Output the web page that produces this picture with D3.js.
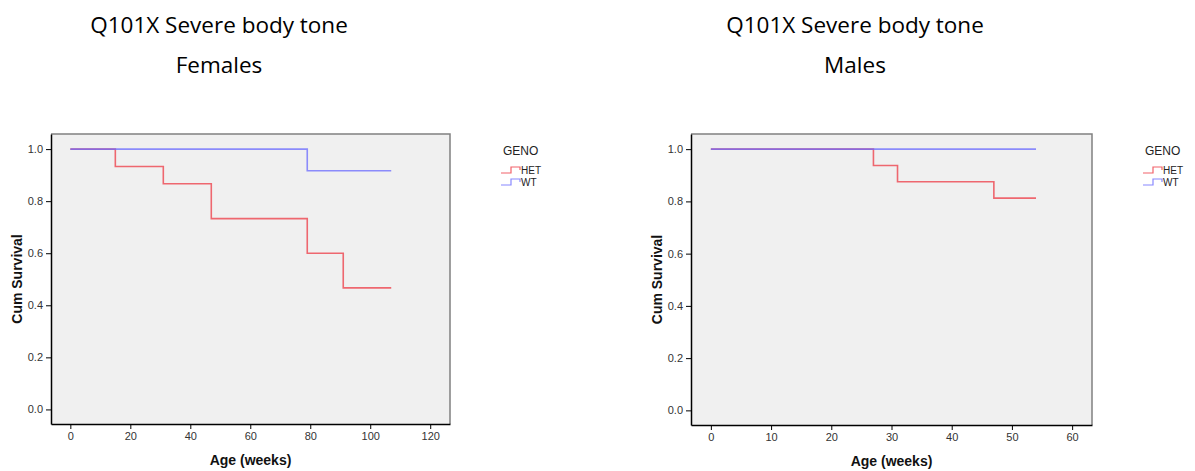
<!DOCTYPE html>
<html><head><meta charset="utf-8">
<script src="https://cdn.jsdelivr.net/npm/d3@7"></script>
<style>body{margin:0;background:#fff;}svg{display:block;}</style>
</head><body>
<script>
// ---- data ----
const femaleHetTime = [0, 15, 31, 47, 79, 91, 107];
const femaleHetSurv = [1.0, 0.933, 0.867, 0.733, 0.600, 0.467, 0.467];
const femaleWtTime  = [0, 79, 107];
const femaleWtSurv  = [1.0, 0.917, 0.917];
const maleHetTime   = [0, 27, 31, 47, 54];
const maleHetSurv   = [1.0, 0.9375, 0.875, 0.8125, 0.8125];
const maleWtTime    = [0, 54];
const maleWtSurv    = [1.0, 1.0];
const femaleXTicks  = [0, 20, 40, 60, 80, 100, 120];
const maleXTicks    = [0, 10, 20, 30, 40, 50, 60];
const yTicks        = [0.0, 0.2, 0.4, 0.6, 0.8, 1.0];
const groups        = ["HET", "WT"];
const titles        = ["Q101X Severe body tone", "Females", "Males"];

const colors = {HET: "#ee3a44", WT: "#6a6aff"};

const svg = d3.select("body").append("svg").attr("width", 1195).attr("height", 471);

function panel(cfg) {
  const g = svg.append("g");
  const x = d3.scaleLinear().domain(cfg.xDomain).range([cfg.x0, cfg.x1]);
  const y = d3.scaleLinear().domain([-0.056, 1.058]).range([cfg.y1, cfg.y0]);
  g.append("rect").attr("x", cfg.x0).attr("y", cfg.y0)
    .attr("width", cfg.x1 - cfg.x0).attr("height", cfg.y1 - cfg.y0)
    .attr("fill", "#f0f0f0");
  g.append("path").attr("d", `M${cfg.x0},${cfg.y0}H${cfg.x1}V${cfg.y1}`)
    .attr("fill", "none").attr("stroke", "#808080").attr("stroke-width", 1.5);
  const line = d3.line().x(d => x(d[0])).y(d => y(d[1])).curve(d3.curveStepAfter);
  cfg.series.forEach(s => {
    g.append("path").datum(d3.zip(s.t, s.s)).attr("d", line)
      .attr("fill", "none").attr("stroke", colors[s.name])
      .attr("stroke-width", 1.6).attr("stroke-opacity", 0.75);
  });
  const xa = g.append("g").attr("transform", `translate(0,${cfg.y1})`)
    .call(d3.axisBottom(x).tickValues(cfg.xTicks).tickSize(5).tickSizeOuter(0).tickPadding(3).tickFormat(d3.format("d")));
  const ya = g.append("g").attr("transform", `translate(${cfg.x0},0)`)
    .call(d3.axisLeft(y).tickValues(yTicks).tickSize(5).tickSizeOuter(0).tickPadding(3).tickFormat(d3.format(".1f")));
  [xa, ya].forEach(a => {
    a.select(".domain").attr("stroke", "#000").attr("stroke-width", 1.5);
    a.selectAll(".tick line").attr("stroke", "#000").attr("stroke-width", 1);
    a.selectAll(".tick text").attr("fill", "#333").style("font-family", "Liberation Sans, Arial, sans-serif").style("font-size", "11px");
  });
  g.append("text").attr("x", (cfg.x0 + cfg.x1) / 2).attr("y", cfg.y1 + 41)
    .attr("text-anchor", "middle").attr("font-family", "Liberation Sans, Arial, sans-serif")
    .attr("font-weight", "bold").attr("font-size", "14px").attr("fill", "#111").text("Age (weeks)");
  g.append("text").attr("transform", `translate(${cfg.x0 - 29},${(cfg.y0 + cfg.y1) / 2}) rotate(-90)`)
    .attr("text-anchor", "middle").attr("font-family", "Liberation Sans, Arial, sans-serif")
    .attr("font-weight", "bold").attr("font-size", "14px").attr("fill", "#111").text("Cum Survival");
  g.append("text").attr("x", cfg.tx).attr("y", 33).attr("text-anchor", "middle")
    .attr("font-family", "Open Sans, sans-serif").attr("font-size", "22.5px").attr("fill", "#000").text(titles[0]);
  g.append("text").attr("x", cfg.tx).attr("y", 73).attr("text-anchor", "middle")
    .attr("font-family", "Open Sans, sans-serif").attr("font-size", "22.5px").attr("fill", "#000").text(cfg.sub);
  const lg = g.append("g").attr("transform", `translate(${cfg.lx},0)`);
  lg.append("text").attr("x", 2).attr("y", 155).attr("font-family", "Liberation Sans, Arial, sans-serif")
    .attr("font-size", "12px").attr("fill", "#222").text("GENO");
  groups.forEach((name, i) => {
    const yy = 170 + i * 12;
    lg.append("path").attr("d", `M0,${yy + 3}H10V${yy - 3}H19V${yy}`)
      .attr("fill", "none").attr("stroke", colors[name]).attr("stroke-width", 1.2).attr("stroke-opacity", 0.8);
    lg.append("text").attr("x", 20).attr("y", yy + 4).attr("font-family", "Liberation Sans, Arial, sans-serif")
      .attr("font-size", "10px").attr("fill", "#222").text(name);
  });
}

panel({
  x0: 51, x1: 450, y0: 134, y1: 424,
  xDomain: [-6.45, 126.6], xTicks: femaleXTicks,
  series: [{name: "HET", t: femaleHetTime, s: femaleHetSurv}, {name: "WT", t: femaleWtTime, s: femaleWtSurv}],
  tx: 219, sub: titles[1], lx: 501
});
panel({
  x0: 691, x1: 1092, y0: 134, y1: 425,
  xDomain: [-3.3, 63.3], xTicks: maleXTicks,
  series: [{name: "HET", t: maleHetTime, s: maleHetSurv}, {name: "WT", t: maleWtTime, s: maleWtSurv}],
  tx: 855, sub: titles[2], lx: 1143
});
</script>
</body></html>
